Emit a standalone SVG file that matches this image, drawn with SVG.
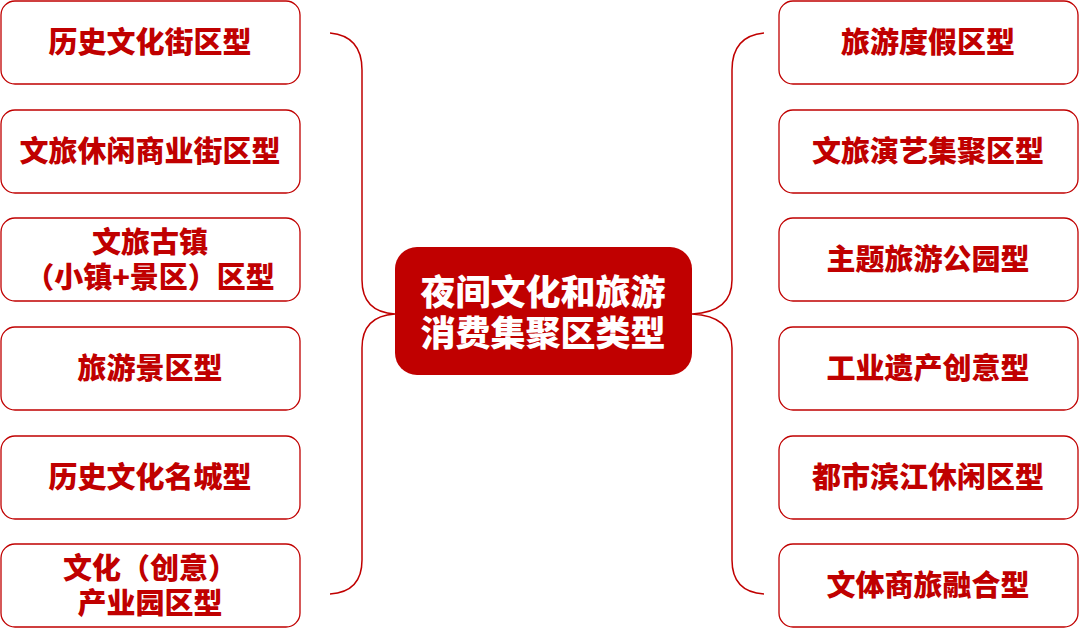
<svg xmlns="http://www.w3.org/2000/svg" width="1080" height="629" viewBox="0 0 1080 629">
<style>
.b{fill:#fff;stroke:#C00000;stroke-width:1.3}
.t{font-family:"Noto Sans CJK SC",sans-serif;font-weight:900;font-size:29px;fill:#C00000;text-anchor:middle}
.c{font-family:"Noto Sans CJK SC",sans-serif;font-weight:900;font-size:35px;fill:#fff;text-anchor:middle}
.l{fill:none;stroke:#C00000;stroke-width:1.5}
</style>
<rect width="1080" height="629" fill="#fff"/>
<g id="connectors">
<path class="l" d="M330,33 Q362,36 362,70 L362,280 Q362,312 395,314 Q362,316 362,348 L362,560 Q362,592 330,594"/>
<path class="l" d="M764,33 Q732,36 732,70 L732,280 Q732,312 692,314 Q732,316 732,348 L732,560 Q732,592 764,594"/>
</g>
<g id="center"><rect x="395" y="247" width="297" height="128" rx="22" fill="#C00000"/>
<text class="c" x="543" y="305">夜间文化和旅游</text><text class="c" x="543" y="346">消费集聚区类型</text></g>
<g id="l1"><rect class="b" x="1" y="1" width="299" height="83" rx="14"/><text class="t" x="150" y="53">历史文化街区型</text></g>
<g id="l2"><rect class="b" x="1" y="110" width="299" height="83" rx="14"/><text class="t" x="150" y="162">文旅休闲商业街区型</text></g>
<g id="l3"><rect class="b" x="1" y="218" width="299" height="83" rx="14"/><text class="t" x="150" y="253">文旅古镇</text><text class="t" x="150" y="288">（小镇+景区）区型</text></g>
<g id="l4"><rect class="b" x="1" y="327" width="299" height="83" rx="14"/><text class="t" x="150" y="379">旅游景区型</text></g>
<g id="l5"><rect class="b" x="1" y="436" width="299" height="83" rx="14"/><text class="t" x="150" y="488">历史文化名城型</text></g>
<g id="l6"><rect class="b" x="1" y="544" width="299" height="83" rx="14"/><text class="t" x="150" y="579">文化（创意）</text><text class="t" x="150" y="614">产业园区型</text></g>
<g id="r1"><rect class="b" x="779" y="1" width="299" height="83" rx="14"/><text class="t" x="928" y="53">旅游度假区型</text></g>
<g id="r2"><rect class="b" x="779" y="110" width="299" height="83" rx="14"/><text class="t" x="928" y="162">文旅演艺集聚区型</text></g>
<g id="r3"><rect class="b" x="779" y="218" width="299" height="83" rx="14"/><text class="t" x="928" y="270">主题旅游公园型</text></g>
<g id="r4"><rect class="b" x="779" y="327" width="299" height="83" rx="14"/><text class="t" x="928" y="379">工业遗产创意型</text></g>
<g id="r5"><rect class="b" x="779" y="436" width="299" height="83" rx="14"/><text class="t" x="928" y="488">都市滨江休闲区型</text></g>
<g id="r6"><rect class="b" x="779" y="544" width="299" height="83" rx="14"/><text class="t" x="928" y="596">文体商旅融合型</text></g>
</svg>
